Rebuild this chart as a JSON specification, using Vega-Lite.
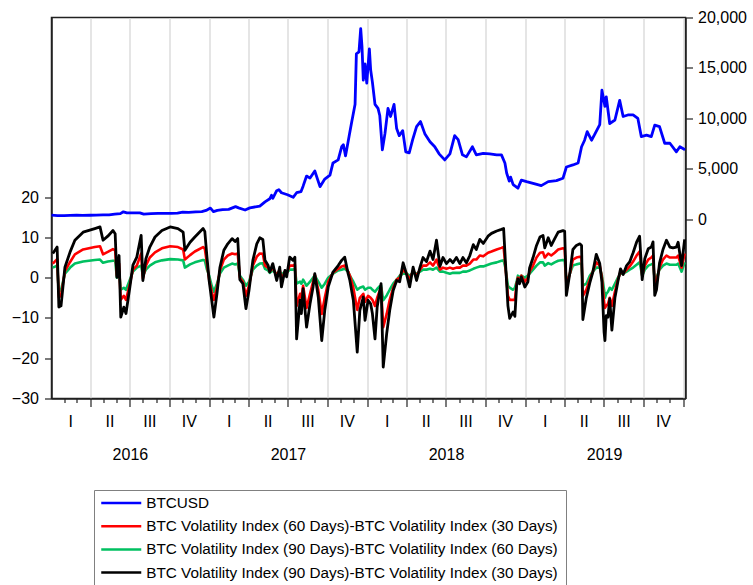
{
  "$schema": "https://vega.github.io/schema/vega-lite/v6.json",
  "width": 634,
  "height": 381,
  "autosize": {"type": "none"},
  "padding": {"left": 51.5, "top": 17.5, "right": 67.5, "bottom": 186.5},
  "background": "white",
  "config": {
    "view": {"stroke": "#222", "strokeWidth": 1.5},
    "font": "Liberation Sans",
    "axis": {"labelFont": "Liberation Sans", "labelFontSize": 16, "labelColor": "#000", "domainColor": "#222", "domainWidth": 1.5, "tickColor": "#222", "tickWidth": 1.2, "title": null, "grid": false}
  },
  "datasets": {
    "btc": [
      {"date": "2016-01-03", "price": 430}, {"date": "2016-01-17", "price": 385}, {"date": "2016-02-01", "price": 375}, {"date": "2016-02-15", "price": 400},
      {"date": "2016-03-01", "price": 430}, {"date": "2016-03-15", "price": 415}, {"date": "2016-04-01", "price": 420}, {"date": "2016-04-15", "price": 430},
      {"date": "2016-05-01", "price": 450}, {"date": "2016-05-15", "price": 455}, {"date": "2016-05-28", "price": 530}, {"date": "2016-06-10", "price": 580},
      {"date": "2016-06-17", "price": 760}, {"date": "2016-06-25", "price": 660}, {"date": "2016-07-10", "price": 650}, {"date": "2016-07-25", "price": 655},
      {"date": "2016-08-03", "price": 540}, {"date": "2016-08-20", "price": 575}, {"date": "2016-09-05", "price": 605}, {"date": "2016-09-20", "price": 605},
      {"date": "2016-10-05", "price": 615}, {"date": "2016-10-20", "price": 630}, {"date": "2016-11-01", "price": 730}, {"date": "2016-11-15", "price": 710},
      {"date": "2016-12-01", "price": 750}, {"date": "2016-12-15", "price": 780}, {"date": "2016-12-25", "price": 900}, {"date": "2017-01-04", "price": 1130},
      {"date": "2017-01-11", "price": 780}, {"date": "2017-01-20", "price": 900}, {"date": "2017-02-01", "price": 980}, {"date": "2017-02-15", "price": 1000},
      {"date": "2017-03-03", "price": 1270}, {"date": "2017-03-10", "price": 1150}, {"date": "2017-03-25", "price": 940}, {"date": "2017-04-05", "price": 1150},
      {"date": "2017-04-28", "price": 1330}, {"date": "2017-05-10", "price": 1750}, {"date": "2017-05-21", "price": 2050}, {"date": "2017-05-25", "price": 2400},
      {"date": "2017-05-28", "price": 2100}, {"date": "2017-06-06", "price": 2850}, {"date": "2017-06-11", "price": 2950}, {"date": "2017-06-17", "price": 2650},
      {"date": "2017-07-01", "price": 2450}, {"date": "2017-07-14", "price": 2200}, {"date": "2017-07-22", "price": 2650}, {"date": "2017-08-01", "price": 2750},
      {"date": "2017-08-06", "price": 3300}, {"date": "2017-08-14", "price": 4300}, {"date": "2017-08-22", "price": 4100}, {"date": "2017-09-02", "price": 4800},
      {"date": "2017-09-14", "price": 3250}, {"date": "2017-09-25", "price": 4000}, {"date": "2017-10-07", "price": 4400}, {"date": "2017-10-14", "price": 5600},
      {"date": "2017-10-26", "price": 5900}, {"date": "2017-11-03", "price": 7200}, {"date": "2017-11-07", "price": 7400}, {"date": "2017-11-12", "price": 6300},
      {"date": "2017-11-20", "price": 8200}, {"date": "2017-11-26", "price": 9600}, {"date": "2017-12-04", "price": 11400}, {"date": "2017-12-07", "price": 16400},
      {"date": "2017-12-13", "price": 16600}, {"date": "2017-12-17", "price": 18900}, {"date": "2017-12-20", "price": 17100}, {"date": "2017-12-23", "price": 13800},
      {"date": "2017-12-27", "price": 15400}, {"date": "2017-12-31", "price": 13500}, {"date": "2018-01-06", "price": 16900}, {"date": "2018-01-09", "price": 14800},
      {"date": "2018-01-13", "price": 13600}, {"date": "2018-01-19", "price": 11400}, {"date": "2018-01-26", "price": 11000}, {"date": "2018-01-30", "price": 10300},
      {"date": "2018-02-05", "price": 6900}, {"date": "2018-02-11", "price": 8500}, {"date": "2018-02-18", "price": 11000}, {"date": "2018-02-24", "price": 10200},
      {"date": "2018-03-04", "price": 11400}, {"date": "2018-03-10", "price": 9000}, {"date": "2018-03-16", "price": 8300}, {"date": "2018-03-24", "price": 8800},
      {"date": "2018-03-31", "price": 6700}, {"date": "2018-04-08", "price": 6600}, {"date": "2018-04-16", "price": 7900}, {"date": "2018-04-25", "price": 9200},
      {"date": "2018-05-04", "price": 9700}, {"date": "2018-05-14", "price": 8500}, {"date": "2018-05-26", "price": 7700}, {"date": "2018-06-06", "price": 7200},
      {"date": "2018-06-16", "price": 6500}, {"date": "2018-06-29", "price": 5900}, {"date": "2018-07-11", "price": 6500}, {"date": "2018-07-22", "price": 8300},
      {"date": "2018-07-30", "price": 7900}, {"date": "2018-08-09", "price": 6400}, {"date": "2018-08-18", "price": 6200}, {"date": "2018-09-01", "price": 7200},
      {"date": "2018-09-10", "price": 6400}, {"date": "2018-09-26", "price": 6550}, {"date": "2018-10-11", "price": 6500}, {"date": "2018-10-27", "price": 6400},
      {"date": "2018-11-07", "price": 6400}, {"date": "2018-11-15", "price": 5600}, {"date": "2018-11-19", "price": 4600}, {"date": "2018-11-25", "price": 3800},
      {"date": "2018-11-28", "price": 4200}, {"date": "2018-12-04", "price": 3450}, {"date": "2018-12-15", "price": 3100}, {"date": "2018-12-23", "price": 3900},
      {"date": "2019-01-04", "price": 3750}, {"date": "2019-01-19", "price": 3580}, {"date": "2019-02-07", "price": 3350}, {"date": "2019-02-23", "price": 3750},
      {"date": "2019-03-14", "price": 3850}, {"date": "2019-03-29", "price": 4080}, {"date": "2019-04-06", "price": 5200}, {"date": "2019-04-21", "price": 5400},
      {"date": "2019-05-03", "price": 5600}, {"date": "2019-05-11", "price": 7200}, {"date": "2019-05-18", "price": 7850}, {"date": "2019-05-24", "price": 8700},
      {"date": "2019-06-03", "price": 7850}, {"date": "2019-06-10", "price": 8400}, {"date": "2019-06-22", "price": 9400}, {"date": "2019-06-27", "price": 12800},
      {"date": "2019-07-04", "price": 11200}, {"date": "2019-07-07", "price": 12150}, {"date": "2019-07-15", "price": 9500}, {"date": "2019-07-27", "price": 9850},
      {"date": "2019-08-07", "price": 11800}, {"date": "2019-08-15", "price": 10200}, {"date": "2019-08-26", "price": 10350}, {"date": "2019-09-07", "price": 10350},
      {"date": "2019-09-18", "price": 10000}, {"date": "2019-09-26", "price": 8200}, {"date": "2019-10-08", "price": 8350}, {"date": "2019-10-19", "price": 8200},
      {"date": "2019-10-27", "price": 9350}, {"date": "2019-11-07", "price": 9200}, {"date": "2019-11-19", "price": 7550}, {"date": "2019-12-01", "price": 7550},
      {"date": "2019-12-16", "price": 6700}, {"date": "2019-12-24", "price": 7200}, {"date": "2020-01-05", "price": 6900}
    ],
    "vol": [
      {"date": "2016-01-06", "k": 6.0, "g": 2.5, "r": 3.5}, {"date": "2016-01-16", "k": 7.6, "g": 3.0, "r": 4.6}, {"date": "2016-01-20", "k": -7.3, "g": -3.6, "r": -4.8},
      {"date": "2016-01-25", "k": -7.0, "g": -3.0, "r": -4.5}, {"date": "2016-02-03", "k": 2.6, "g": 1.0, "r": 1.6}, {"date": "2016-02-15", "k": 6.4, "g": 2.5, "r": 3.9},
      {"date": "2016-02-26", "k": 9.3, "g": 3.5, "r": 5.8}, {"date": "2016-03-16", "k": 11.3, "g": 4.0, "r": 7.0}, {"date": "2016-04-12", "k": 12.2, "g": 4.4, "r": 7.6},
      {"date": "2016-04-24", "k": 12.6, "g": 4.5, "r": 7.8}, {"date": "2016-05-01", "k": 9.3, "g": 3.7, "r": 5.8}, {"date": "2016-05-12", "k": 10.3, "g": 4.0, "r": 6.4},
      {"date": "2016-05-24", "k": 11.7, "g": 4.2, "r": 7.1}, {"date": "2016-05-29", "k": 10.9, "g": 4.2, "r": 6.8}, {"date": "2016-06-02", "k": 0.1, "g": 0.0, "r": 0.5},
      {"date": "2016-06-07", "k": 5.5, "g": 1.5, "r": 3.5}, {"date": "2016-06-11", "k": -9.8, "g": -3.0, "r": -5.5}, {"date": "2016-06-18", "k": -7.3, "g": -2.5, "r": -4.5},
      {"date": "2016-06-23", "k": -8.9, "g": -3.0, "r": -5.5}, {"date": "2016-07-02", "k": -2.3, "g": -0.5, "r": -1.5}, {"date": "2016-07-09", "k": 3.1, "g": 1.5, "r": 2.0},
      {"date": "2016-07-18", "k": 5.1, "g": 2.5, "r": 3.0}, {"date": "2016-07-28", "k": 10.5, "g": 3.0, "r": 6.0}, {"date": "2016-08-01", "k": -0.7, "g": 0.5, "r": -0.2},
      {"date": "2016-08-08", "k": 4.7, "g": 2.0, "r": 3.0}, {"date": "2016-08-17", "k": 7.6, "g": 3.0, "r": 5.0}, {"date": "2016-08-29", "k": 10.1, "g": 3.8, "r": 6.3},
      {"date": "2016-09-14", "k": 11.7, "g": 4.3, "r": 7.3}, {"date": "2016-10-03", "k": 12.6, "g": 4.6, "r": 7.8}, {"date": "2016-10-21", "k": 12.2, "g": 4.5, "r": 7.6},
      {"date": "2016-11-02", "k": 11.3, "g": 4.3, "r": 7.0}, {"date": "2016-11-06", "k": 6.8, "g": 2.5, "r": 4.5}, {"date": "2016-11-18", "k": 8.8, "g": 3.3, "r": 5.6},
      {"date": "2016-11-29", "k": 10.1, "g": 3.8, "r": 6.5}, {"date": "2016-12-18", "k": 12.2, "g": 4.4, "r": 7.6}, {"date": "2016-12-22", "k": 11.5, "g": 4.3, "r": 7.2},
      {"date": "2016-12-27", "k": 5.1, "g": 2.0, "r": 3.5}, {"date": "2017-01-01", "k": -0.7, "g": 0.5, "r": -0.5}, {"date": "2017-01-07", "k": -5.6, "g": -2.0, "r": -3.5},
      {"date": "2017-01-12", "k": -9.8, "g": -3.5, "r": -5.5}, {"date": "2017-01-19", "k": -4.0, "g": -1.5, "r": -2.5}, {"date": "2017-01-26", "k": 2.6, "g": 1.0, "r": 1.8},
      {"date": "2017-02-04", "k": 6.8, "g": 2.5, "r": 4.5}, {"date": "2017-02-13", "k": 8.4, "g": 3.0, "r": 5.5}, {"date": "2017-02-23", "k": 9.7, "g": 3.5, "r": 6.0},
      {"date": "2017-03-02", "k": 9.0, "g": 3.3, "r": 5.8}, {"date": "2017-03-08", "k": 9.7, "g": 3.5, "r": 6.0}, {"date": "2017-03-13", "k": -0.5, "g": 0.5, "r": 0.0},
      {"date": "2017-03-20", "k": -1.5, "g": -0.5, "r": -1.0}, {"date": "2017-03-27", "k": -7.7, "g": -2.0, "r": -4.5}, {"date": "2017-04-03", "k": -3.2, "g": -1.0, "r": -2.0},
      {"date": "2017-04-12", "k": 4.3, "g": 2.0, "r": 3.0}, {"date": "2017-04-21", "k": 8.4, "g": 3.0, "r": 5.2}, {"date": "2017-04-28", "k": 9.9, "g": 3.5, "r": 6.0},
      {"date": "2017-05-05", "k": 9.5, "g": 3.6, "r": 5.9}, {"date": "2017-05-10", "k": 4.3, "g": 2.2, "r": 3.0}, {"date": "2017-05-17", "k": 3.1, "g": 1.8, "r": 2.5},
      {"date": "2017-05-21", "k": 1.4, "g": 1.2, "r": 1.5}, {"date": "2017-05-28", "k": 3.5, "g": 1.8, "r": 2.5}, {"date": "2017-06-06", "k": -0.7, "g": 1.0, "r": 0.5},
      {"date": "2017-06-13", "k": 2.6, "g": 1.5, "r": 2.0}, {"date": "2017-06-17", "k": -2.3, "g": 0.8, "r": -0.5}, {"date": "2017-06-25", "k": 1.8, "g": 1.5, "r": 1.5},
      {"date": "2017-06-29", "k": 0.2, "g": 1.2, "r": 1.0}, {"date": "2017-07-06", "k": 5.1, "g": 2.0, "r": 3.0}, {"date": "2017-07-14", "k": 4.3, "g": 2.0, "r": 3.0},
      {"date": "2017-07-18", "k": 5.1, "g": 2.2, "r": 3.2}, {"date": "2017-07-22", "k": -15.2, "g": -1.5, "r": -7.0}, {"date": "2017-07-30", "k": -5.6, "g": -1.0, "r": -4.0},
      {"date": "2017-08-02", "k": -8.9, "g": -1.5, "r": -5.0}, {"date": "2017-08-06", "k": -2.7, "g": -0.5, "r": -2.0}, {"date": "2017-08-14", "k": -12.3, "g": -2.0, "r": -7.5},
      {"date": "2017-08-22", "k": -6.5, "g": -1.0, "r": -4.0}, {"date": "2017-08-29", "k": -2.3, "g": 0.0, "r": -1.0}, {"date": "2017-09-02", "k": 1.0, "g": 0.5, "r": 0.8},
      {"date": "2017-09-10", "k": -4.8, "g": -1.0, "r": -3.0}, {"date": "2017-09-18", "k": -15.6, "g": -2.5, "r": -9.0}, {"date": "2017-09-25", "k": -8.1, "g": -1.5, "r": -5.0},
      {"date": "2017-10-03", "k": -2.3, "g": 0.0, "r": -1.0}, {"date": "2017-10-14", "k": 1.4, "g": 1.0, "r": 1.2}, {"date": "2017-10-26", "k": 3.0, "g": 1.8, "r": 2.2},
      {"date": "2017-11-03", "k": 4.3, "g": 2.0, "r": 2.8}, {"date": "2017-11-10", "k": 5.1, "g": 2.2, "r": 3.0}, {"date": "2017-11-18", "k": 1.0, "g": 1.5, "r": 1.5},
      {"date": "2017-11-22", "k": -0.7, "g": 0.5, "r": 0.5}, {"date": "2017-11-30", "k": -5.6, "g": -1.0, "r": -2.5}, {"date": "2017-12-09", "k": -18.5, "g": -3.0, "r": -8.0},
      {"date": "2017-12-15", "k": -8.1, "g": -2.5, "r": -5.0}, {"date": "2017-12-23", "k": -4.8, "g": -2.2, "r": -4.0}, {"date": "2017-12-27", "k": -10.6, "g": -3.0, "r": -6.0},
      {"date": "2018-01-03", "k": -5.6, "g": -2.5, "r": -4.5}, {"date": "2018-01-09", "k": -6.5, "g": -2.5, "r": -5.0}, {"date": "2018-01-13", "k": -8.9, "g": -3.0, "r": -5.5},
      {"date": "2018-01-19", "k": -15.2, "g": -3.5, "r": -7.0}, {"date": "2018-01-24", "k": -7.3, "g": -2.8, "r": -5.0}, {"date": "2018-01-29", "k": -4.0, "g": -2.2, "r": -3.5},
      {"date": "2018-02-02", "k": -1.5, "g": -2.0, "r": -2.5}, {"date": "2018-02-07", "k": -22.2, "g": -5.6, "r": -12.3}, {"date": "2018-02-15", "k": -13.9, "g": -4.4, "r": -9.0},
      {"date": "2018-02-22", "k": -8.1, "g": -3.0, "r": -5.5}, {"date": "2018-03-02", "k": -3.2, "g": -1.5, "r": -2.5}, {"date": "2018-03-10", "k": -0.7, "g": -0.5, "r": -0.5},
      {"date": "2018-03-17", "k": -1.0, "g": 0.5, "r": 0.0}, {"date": "2018-03-25", "k": 3.7, "g": 1.0, "r": 2.0}, {"date": "2018-04-02", "k": 0.8, "g": 1.0, "r": 1.0},
      {"date": "2018-04-09", "k": -2.3, "g": 0.5, "r": -0.5}, {"date": "2018-04-17", "k": 2.6, "g": 1.2, "r": 1.8}, {"date": "2018-04-25", "k": -0.7, "g": 1.0, "r": 0.5},
      {"date": "2018-05-03", "k": 2.6, "g": 1.5, "r": 2.0}, {"date": "2018-05-10", "k": 5.0, "g": 2.0, "r": 3.0}, {"date": "2018-05-18", "k": 4.0, "g": 2.0, "r": 3.0},
      {"date": "2018-05-26", "k": 6.6, "g": 2.2, "r": 3.8}, {"date": "2018-06-02", "k": 4.5, "g": 2.0, "r": 3.0}, {"date": "2018-06-10", "k": 9.3, "g": 2.5, "r": 4.5},
      {"date": "2018-06-18", "k": 2.8, "g": 1.5, "r": 2.0}, {"date": "2018-06-25", "k": 5.0, "g": 1.5, "r": 2.5}, {"date": "2018-07-03", "k": 3.5, "g": 1.2, "r": 2.2},
      {"date": "2018-07-11", "k": 4.5, "g": 1.0, "r": 2.5}, {"date": "2018-07-18", "k": 3.7, "g": 1.2, "r": 2.2}, {"date": "2018-07-26", "k": 5.0, "g": 1.2, "r": 2.5},
      {"date": "2018-08-03", "k": 3.5, "g": 1.2, "r": 2.5}, {"date": "2018-08-10", "k": 5.0, "g": 1.5, "r": 3.0}, {"date": "2018-08-18", "k": 3.7, "g": 1.5, "r": 3.0},
      {"date": "2018-08-26", "k": 5.5, "g": 1.8, "r": 3.5}, {"date": "2018-09-03", "k": 8.2, "g": 2.2, "r": 4.5}, {"date": "2018-09-10", "k": 7.0, "g": 2.5, "r": 4.5},
      {"date": "2018-09-18", "k": 9.5, "g": 2.8, "r": 5.5}, {"date": "2018-09-26", "k": 8.5, "g": 2.8, "r": 5.3}, {"date": "2018-10-07", "k": 10.3, "g": 3.2, "r": 6.2},
      {"date": "2018-10-15", "k": 11.0, "g": 3.5, "r": 6.5}, {"date": "2018-10-27", "k": 11.6, "g": 3.8, "r": 7.0}, {"date": "2018-11-07", "k": 12.0, "g": 4.2, "r": 7.4},
      {"date": "2018-11-12", "k": 12.2, "g": 4.3, "r": 7.6}, {"date": "2018-11-16", "k": 4.3, "g": 2.5, "r": 3.0}, {"date": "2018-11-22", "k": -7.0, "g": -2.0, "r": -4.5},
      {"date": "2018-11-26", "k": -10.1, "g": -2.5, "r": -5.5}, {"date": "2018-12-04", "k": -8.5, "g": -3.0, "r": -5.5}, {"date": "2018-12-08", "k": -9.6, "g": -2.5, "r": -5.5},
      {"date": "2018-12-12", "k": -2.0, "g": -1.0, "r": -1.5}, {"date": "2018-12-15", "k": -0.3, "g": 0.5, "r": 0.0}, {"date": "2018-12-19", "k": -1.5, "g": 0.0, "r": -0.5},
      {"date": "2018-12-23", "k": 0.2, "g": 0.5, "r": 0.5}, {"date": "2018-12-31", "k": -2.3, "g": 0.0, "r": -1.0}, {"date": "2019-01-07", "k": -1.1, "g": 0.5, "r": 0.0},
      {"date": "2019-01-11", "k": 2.4, "g": 1.0, "r": 1.5}, {"date": "2019-01-19", "k": 5.0, "g": 2.0, "r": 3.0}, {"date": "2019-01-27", "k": 8.0, "g": 3.0, "r": 5.0},
      {"date": "2019-02-04", "k": 10.1, "g": 3.8, "r": 6.2}, {"date": "2019-02-11", "k": 10.5, "g": 3.8, "r": 6.3}, {"date": "2019-02-15", "k": 7.4, "g": 3.0, "r": 5.0},
      {"date": "2019-02-23", "k": 9.9, "g": 3.6, "r": 6.0}, {"date": "2019-03-02", "k": 8.0, "g": 3.3, "r": 5.5}, {"date": "2019-03-10", "k": 9.7, "g": 3.8, "r": 6.2},
      {"date": "2019-03-18", "k": 11.3, "g": 4.2, "r": 7.0}, {"date": "2019-03-29", "k": 11.7, "g": 4.4, "r": 7.3}, {"date": "2019-04-02", "k": 11.5, "g": 4.3, "r": 7.2},
      {"date": "2019-04-06", "k": -4.4, "g": -1.0, "r": -2.0}, {"date": "2019-04-14", "k": 1.2, "g": 1.0, "r": 1.0}, {"date": "2019-04-21", "k": 7.0, "g": 3.0, "r": 4.5},
      {"date": "2019-04-29", "k": 8.0, "g": 3.3, "r": 5.0}, {"date": "2019-05-07", "k": 8.4, "g": 3.5, "r": 5.2}, {"date": "2019-05-11", "k": 8.0, "g": 3.3, "r": 5.0},
      {"date": "2019-05-14", "k": -10.4, "g": -2.0, "r": -4.5}, {"date": "2019-05-22", "k": -5.0, "g": -1.5, "r": -3.0}, {"date": "2019-05-30", "k": -1.3, "g": 0.5, "r": -0.5},
      {"date": "2019-06-06", "k": 1.4, "g": 1.5, "r": 1.5}, {"date": "2019-06-14", "k": 5.8, "g": 2.5, "r": 3.8}, {"date": "2019-06-22", "k": 3.5, "g": 2.5, "r": 3.0},
      {"date": "2019-06-27", "k": -1.1, "g": 0.5, "r": 0.0}, {"date": "2019-07-02", "k": -13.5, "g": -3.0, "r": -6.0}, {"date": "2019-07-04", "k": -15.6, "g": -5.0, "r": -7.5},
      {"date": "2019-07-07", "k": -9.4, "g": -4.0, "r": -7.0}, {"date": "2019-07-11", "k": -9.8, "g": -3.5, "r": -6.5}, {"date": "2019-07-15", "k": -5.2, "g": -2.5, "r": -5.0},
      {"date": "2019-07-20", "k": -13.0, "g": -3.0, "r": -7.0}, {"date": "2019-07-27", "k": -5.0, "g": -1.5, "r": -3.5}, {"date": "2019-08-03", "k": -0.9, "g": 0.0, "r": -0.5},
      {"date": "2019-08-09", "k": 2.2, "g": 1.0, "r": 1.5}, {"date": "2019-08-15", "k": 0.8, "g": 1.0, "r": 1.0}, {"date": "2019-08-23", "k": 3.0, "g": 1.5, "r": 2.0},
      {"date": "2019-08-30", "k": 3.9, "g": 2.0, "r": 2.8}, {"date": "2019-09-07", "k": 6.2, "g": 2.5, "r": 4.0}, {"date": "2019-09-15", "k": 8.8, "g": 3.2, "r": 5.5},
      {"date": "2019-09-22", "k": 10.3, "g": 3.8, "r": 6.5}, {"date": "2019-09-28", "k": -0.5, "g": 0.5, "r": 0.5}, {"date": "2019-10-04", "k": 4.7, "g": 2.0, "r": 3.0},
      {"date": "2019-10-12", "k": 7.2, "g": 3.0, "r": 4.5}, {"date": "2019-10-19", "k": 7.6, "g": 3.3, "r": 5.0}, {"date": "2019-10-23", "k": 8.9, "g": 3.5, "r": 5.5},
      {"date": "2019-10-27", "k": -4.4, "g": -0.5, "r": -1.5}, {"date": "2019-10-31", "k": -3.0, "g": 0.0, "r": -1.0}, {"date": "2019-11-07", "k": 3.6, "g": 2.0, "r": 2.5},
      {"date": "2019-11-15", "k": 7.0, "g": 3.0, "r": 4.5}, {"date": "2019-11-23", "k": 9.3, "g": 3.5, "r": 5.5}, {"date": "2019-12-01", "k": 7.6, "g": 3.2, "r": 5.0},
      {"date": "2019-12-08", "k": 7.4, "g": 3.2, "r": 5.0}, {"date": "2019-12-16", "k": 7.6, "g": 3.2, "r": 5.0}, {"date": "2019-12-20", "k": 8.8, "g": 3.5, "r": 5.5},
      {"date": "2019-12-28", "k": 3.0, "g": 1.5, "r": 2.5}, {"date": "2020-01-04", "k": 9.5, "g": 3.8, "r": 6.0}
    ]
  },
  "layer": [
    {
      "data": {"name": "btc"},
      "mark": {"type": "line", "strokeWidth": 2.8, "strokeJoin": "round"},
      "encoding": {
        "x": {
          "field": "date", "type": "temporal",
          "scale": {"type": "utc", "domain": [{"year": 2016, "month": 1, "date": 3, "utc": true}, {"year": 2020, "month": 1, "date": 6, "utc": true}]},
          "axis": {
            "orient": "bottom", "title": null, "labels": false,
            "tickCount": {"interval": "month", "step": 1},
            "tickSize": {"condition": {"test": "utcmonth(datum.value) % 3 === 0", "value": 8}, "value": 4},
            "grid": true, "gridColor": "#d4d4d4", "gridWidth": 1.2,
            "gridOpacity": {"condition": {"test": "utcmonth(datum.value) % 3 === 0", "value": 1}, "value": 0}
          }
        },
        "y": {
          "field": "price", "type": "quantitative",
          "scale": {"domain": [-17723, 20000], "nice": false, "zero": false},
          "axis": {"orient": "right", "title": null, "values": [0, 5000, 10000, 15000, 20000], "format": ",.0f", "tickSize": 7, "labelPadding": 5, "grid": false}
        },
        "color": {
          "datum": "BTCUSD", "type": "nominal",
          "scale": {
            "domain": ["BTCUSD", "BTC Volatility Index (60 Days)-BTC Volatility Index (30  Days)", "BTC Volatility Index (90 Days)-BTC Volatility Index (60 Days)", "BTC Volatility Index (90 Days)-BTC Volatility Index (30  Days)"],
            "range": ["#0000ff", "#ff0000", "#00c060", "#000000"]
          },
          "legend": {
            "orient": "none", "legendX": 42.5, "legendY": 472.5, "title": null, "direction": "vertical",
            "symbolType": "M-2.667,0H2.667", "symbolSize": 225, "symbolStrokeWidth": 2.5, "symbolOffset": 14.25,
            "labelFont": "Liberation Sans", "labelFontSize": 15.3, "labelColor": "#000", "labelLimit": 700,
            "labelOffset": 15.95, "rowPadding": 5.2, "padding": 4, "strokeColor": "#808080", "fillColor": "#ffffff"
          }
        }
      }
    },
    {
      "data": {"name": "vol"},
      "mark": {"type": "line", "strokeWidth": 2.6, "strokeJoin": "round"},
      "encoding": {
        "x": {
          "field": "date", "type": "temporal",
          "scale": {"type": "utc"},
          "axis": {
            "orient": "bottom", "title": null, "ticks": false, "domain": false, "grid": false,
            "labelPadding": 15, "labelFlush": false, "labelOverlap": false, "labelBound": false,
            "values": [
              {"year": 2016, "month": 2, "date": 15, "utc": true}, {"year": 2016, "month": 5, "date": 16, "utc": true}, {"year": 2016, "month": 8, "date": 16, "utc": true}, {"year": 2016, "month": 11, "date": 15, "utc": true},
              {"year": 2017, "month": 2, "date": 15, "utc": true}, {"year": 2017, "month": 5, "date": 16, "utc": true}, {"year": 2017, "month": 8, "date": 16, "utc": true}, {"year": 2017, "month": 11, "date": 15, "utc": true},
              {"year": 2018, "month": 2, "date": 15, "utc": true}, {"year": 2018, "month": 5, "date": 16, "utc": true}, {"year": 2018, "month": 8, "date": 16, "utc": true}, {"year": 2018, "month": 11, "date": 15, "utc": true},
              {"year": 2019, "month": 2, "date": 15, "utc": true}, {"year": 2019, "month": 5, "date": 16, "utc": true}, {"year": 2019, "month": 8, "date": 16, "utc": true}, {"year": 2019, "month": 11, "date": 15, "utc": true}
            ],
            "labelExpr": "['I','II','III','IV'][floor(utcmonth(datum.value) / 3)]"
          }
        },
        "y": {
          "field": "g", "type": "quantitative",
          "scale": {"domain": [-30, 64.6], "nice": false, "zero": false},
          "axis": {"orient": "left", "title": null, "values": [-30, -20, -10, 0, 10, 20], "tickSize": 7, "labelPadding": 6, "grid": false}
        },
        "color": {"datum": "BTC Volatility Index (90 Days)-BTC Volatility Index (60 Days)", "type": "nominal"}
      }
    },
    {
      "data": {"name": "vol"},
      "mark": {"type": "line", "strokeWidth": 2.6, "strokeJoin": "round"},
      "encoding": {
        "x": {
          "field": "date", "type": "temporal",
          "scale": {"type": "utc"},
          "axis": {
            "orient": "bottom", "title": null, "ticks": false, "domain": false, "grid": false,
            "labelPadding": 48, "labelFlush": false, "labelOverlap": false, "labelBound": false,
            "values": [
              {"year": 2016, "month": 7, "date": 2, "utc": true}, {"year": 2017, "month": 7, "date": 2, "utc": true},
              {"year": 2018, "month": 7, "date": 2, "utc": true}, {"year": 2019, "month": 7, "date": 2, "utc": true}
            ],
            "labelExpr": "utcFormat(datum.value, '%Y')"
          }
        },
        "y": {
          "field": "r", "type": "quantitative",
          "scale": {"domain": [-30, 64.6], "nice": false, "zero": false},
          "axis": null
        },
        "color": {"datum": "BTC Volatility Index (60 Days)-BTC Volatility Index (30  Days)", "type": "nominal"}
      }
    },
    {
      "data": {"name": "vol"},
      "mark": {"type": "line", "strokeWidth": 2.8, "strokeJoin": "round"},
      "encoding": {
        "x": {"field": "date", "type": "temporal", "scale": {"type": "utc"}, "axis": null},
        "y": {
          "field": "k", "type": "quantitative",
          "scale": {"domain": [-30, 64.6], "nice": false, "zero": false},
          "axis": null
        },
        "color": {"datum": "BTC Volatility Index (90 Days)-BTC Volatility Index (30  Days)", "type": "nominal"}
      }
    }
  ],
  "resolve": {"scale": {"y": "independent"}, "axis": {"x": "independent", "y": "independent"}}
}
